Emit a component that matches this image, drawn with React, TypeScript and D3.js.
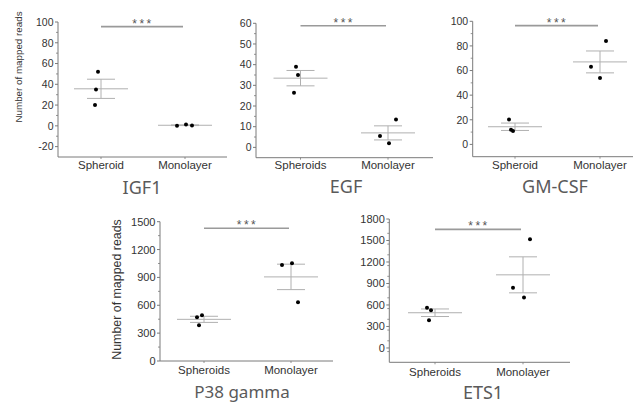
import React from "react";
import * as d3 from "d3";

// ---------- data ----------
const igf1Groups = ["Spheroid", "Monolayer"];
const igf1Spheroid = [52, 35, 20];
const igf1Monolayer = [0.2, 1.2, 0.3];
const igf1Ticks = [-20, 0, 20, 40, 60, 80, 100];

const egfGroups = ["Spheroids", "Monolayer"];
const egfSpheroid = [39, 35, 26.4];
const egfMonolayer = [5.5, 2, 13.5];
const egfTicks = [0, 10, 20, 30, 40, 50, 60];

const gmcsfGroups = ["Spheroid", "Monolayer"];
const gmcsfSpheroid = [20.3, 11.9, 10.8];
const gmcsfMonolayer = [63, 54, 84];
const gmcsfTicks = [0, 20, 40, 60, 80, 100];

const p38Groups = ["Spheroids", "Monolayer"];
const p38Spheroid = [470, 492, 384];
const p38Monolayer = [1033, 1052, 632];
const p38Ticks = [0, 300, 600, 900, 1200, 1500];

const ets1Groups = ["Spheroids", "Monolayer"];
const ets1Spheroid = [560, 527, 388];
const ets1Monolayer = [840, 705, 1517];
const ets1Ticks = [0, 300, 600, 900, 1200, 1500, 1800];

const yAxisTitle = "Number of mapped reads";
const sigLabel = "***";

// ---------- layout ----------
type Layout = {
  ax: number; axEnd: number; yTop: number; yBot: number;
  domain: [number, number]; minor: number;
  c0: number; c1: number; jitter: number[][];
  sig: number; titleX: number; titleY: number; titleSize: number;
  titleFont: string; catY: number; tickSize: number;
  yLabel?: { x: number; y: number; size: number };
};

const AXIS = "#7a7a7a";
const TEXT = "#333";
const ERR = "#b0b0b0";
const SANS = "Liberation Sans, Arial, sans-serif";

function Panel({ title, groups, series, ticks, L }: { title: string; groups: string[]; series: number[][]; ticks: number[]; L: Layout }) {
  const y = d3.scaleLinear().domain(L.domain).range([L.yBot, L.yTop]);
  const x = d3.scalePoint<string>().domain(groups).range([L.c0, L.c1]);
  const minorTicks = d3.range(L.domain[0], L.domain[1] + 1e-9, L.minor).filter((v) => !ticks.some((t) => Math.abs(t - v) < 1e-9) && y(v) > L.yTop - 0.5 && y(v) < L.yBot - 0.5);
  return (
    <g>
      <line x1={L.ax} x2={L.ax} y1={y(L.domain[1])} y2={L.yBot} stroke={AXIS} strokeWidth={1} />
      <line x1={L.ax} x2={L.axEnd} y1={L.yBot} y2={L.yBot} stroke={AXIS} strokeWidth={1} />
      {ticks.map((t) => (
        <g key={t}>
          <line x1={L.ax - 3} x2={L.ax} y1={y(t)} y2={y(t)} stroke={AXIS} />
          <text x={L.ax - 4.5} y={y(t)} dy="0.36em" textAnchor="end" fontSize={L.tickSize} fill={TEXT} fontFamily={SANS}>{t}</text>
        </g>
      ))}
      {minorTicks.map((t) => (
        <line key={"m" + t} x1={L.ax - 2} x2={L.ax} y1={y(t)} y2={y(t)} stroke={AXIS} strokeWidth={0.8} />
      ))}
      {groups.map((g) => (
        <g key={g}>
          <line x1={x(g)!} x2={x(g)!} y1={L.yBot} y2={L.yBot + 2} stroke={AXIS} strokeWidth={0.8} />
          <text x={x(g)!} y={L.catY} textAnchor="middle" fontSize={11.5} fill={TEXT} fontFamily={SANS}>{g}</text>
        </g>
      ))}
      <line x1={L.c0} x2={L.c1 - 2} y1={y(L.sig)} y2={y(L.sig)} stroke="#9a9a9a" strokeWidth={1.6} />
      <text x={(L.c0 + L.c1) / 2} y={y(L.sig) + 1} textAnchor="middle" fontSize={12} letterSpacing={2.5} fill="#555" fontFamily={SANS}>{sigLabel}</text>
      {groups.map((g, gi) => {
        const vals = series[gi];
        const m = d3.mean(vals)!;
        const se = d3.deviation(vals)! / Math.sqrt(vals.length);
        const cx = x(g)!;
        return (
          <g key={"d" + g}>
            <line x1={cx - 27} x2={cx + 27} y1={y(m)} y2={y(m)} stroke={ERR} />
            <line x1={cx} x2={cx} y1={y(m + se)} y2={y(m - se)} stroke={ERR} />
            <line x1={cx - 14} x2={cx + 14} y1={y(m + se)} y2={y(m + se)} stroke={ERR} />
            <line x1={cx - 14} x2={cx + 14} y1={y(m - se)} y2={y(m - se)} stroke={ERR} />
            {vals.map((v, i) => (
              <circle key={i} cx={cx + L.jitter[gi][i]} cy={y(v)} r={2} fill="#000" />
            ))}
          </g>
        );
      })}
      <text x={L.titleX} y={L.titleY} textAnchor="middle" fontSize={L.titleSize} fill="#5a5a5a" fontFamily={L.titleFont}>{title}</text>
      {L.yLabel && (
        <text transform={`translate(${L.yLabel.x},${L.yLabel.y}) rotate(-90)`} textAnchor="middle" fontSize={L.yLabel.size} fill={TEXT} fontFamily={SANS}>{yAxisTitle}</text>
      )}
    </g>
  );
}

const TITLE_FONT = "Noto Sans, sans-serif";

const L1: Layout = {
  ax: 58, axEnd: 227, yTop: 22, yBot: 157, domain: [-30, 100], minor: 10,
  c0: 101, c1: 185, jitter: [[-3, -5, -6], [-8, 1, 7]], sig: 95.5,
  titleX: 142, titleY: 194, titleSize: 18, titleFont: TITLE_FONT, catY: 169, tickSize: 10.5,
  yLabel: { x: 21.5, y: 67, size: 9.8 },
};
const L2: Layout = {
  ax: 256, axEnd: 433, yTop: 23.3, yBot: 157.7, domain: [-5, 60], minor: 5,
  c0: 300.5, c1: 388, jitter: [[-4.5, -2.5, -6.5], [-8, 1, 8]], sig: 58.8,
  titleX: 346, titleY: 193, titleSize: 18, titleFont: TITLE_FONT, catY: 169, tickSize: 10.5,
};
const L3: Layout = {
  ax: 472.7, axEnd: 633, yTop: 21.3, yBot: 156.7, domain: [-10, 100], minor: 10,
  c0: 515, c1: 600, jitter: [[-6, -4, -2], [-9, 0, 6]], sig: 96.5,
  titleX: 555, titleY: 192.5, titleSize: 18, titleFont: TITLE_FONT, catY: 169, tickSize: 10.5,
};
const L4: Layout = {
  ax: 160, axEnd: 333, yTop: 221.7, yBot: 361, domain: [0, 1500], minor: 150,
  c0: 204, c1: 291, jitter: [[-7, -2, -5], [-9, 1, 7]], sig: 1430,
  titleX: 242, titleY: 398, titleSize: 17, titleFont: TITLE_FONT, catY: 374, tickSize: 11,
  yLabel: { x: 121, y: 289.5, size: 12.4 },
};
const L5: Layout = {
  ax: 389.3, axEnd: 570, yTop: 219, yBot: 362.3, domain: [-200, 1800], minor: 150,
  c0: 435, c1: 523, jitter: [[-8, -4, -6], [-10, 1, 7]], sig: 1655,
  titleX: 483, titleY: 399, titleSize: 18, titleFont: TITLE_FONT, catY: 375.5, tickSize: 11,
};

export default function App() {
  return (
    <svg width={633} height={404} style={{ position: "absolute", left: 0, top: 0, background: "#fff" }}>
      <Panel title="IGF1" groups={igf1Groups} series={[igf1Spheroid, igf1Monolayer]} ticks={igf1Ticks} L={L1} />
      <Panel title="EGF" groups={egfGroups} series={[egfSpheroid, egfMonolayer]} ticks={egfTicks} L={L2} />
      <Panel title="GM-CSF" groups={gmcsfGroups} series={[gmcsfSpheroid, gmcsfMonolayer]} ticks={gmcsfTicks} L={L3} />
      <Panel title="P38 gamma" groups={p38Groups} series={[p38Spheroid, p38Monolayer]} ticks={p38Ticks} L={L4} />
      <Panel title="ETS1" groups={ets1Groups} series={[ets1Spheroid, ets1Monolayer]} ticks={ets1Ticks} L={L5} />
    </svg>
  );
}
